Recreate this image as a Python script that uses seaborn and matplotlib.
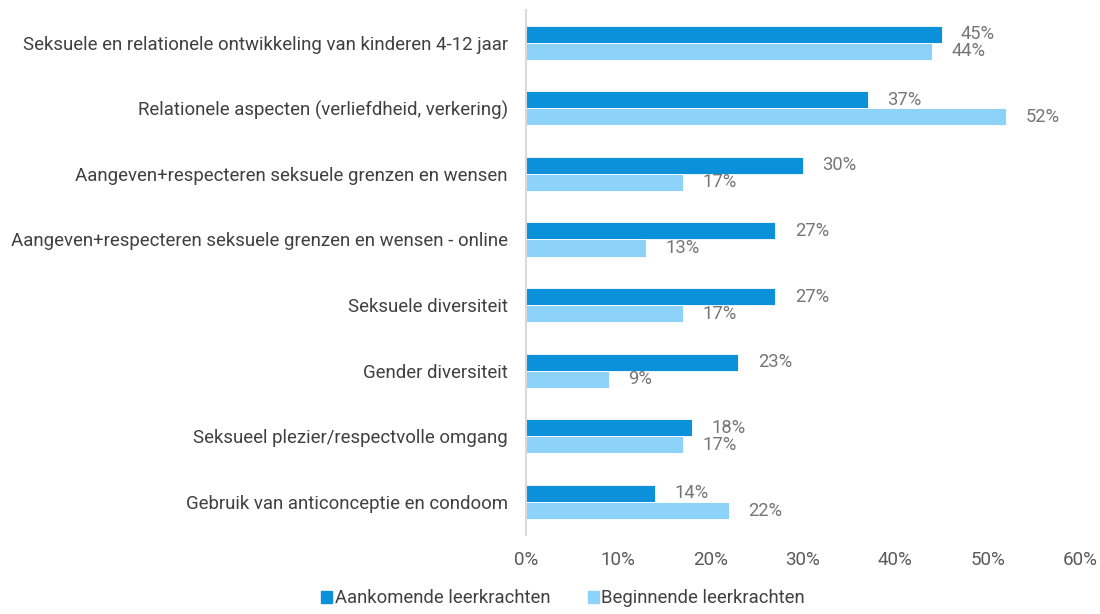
import numpy as np
import pandas as pd
import matplotlib.pyplot as plt
import seaborn as sns

categorieen = [
    'Seksuele en relationele ontwikkeling van kinderen 4-12 jaar',
    'Relationele aspecten (verliefdheid, verkering)',
    'Aangeven+respecteren seksuele grenzen en wensen',
    'Aangeven+respecteren seksuele grenzen en wensen - online',
    'Seksuele diversiteit',
    'Gender diversiteit',
    'Seksueel plezier/respectvolle omgang',
    'Gebruik van anticonceptie en condoom',
]
aankomend = [45, 37, 30, 27, 27, 23, 18, 14]
beginnend = [44, 52, 17, 13, 17, 9, 17, 22]
groepen = ['Aankomende leerkrachten', 'Beginnende leerkrachten']
kleuren = ['#0B91DA', '#8DD3F9']

df = pd.DataFrame({
    'cat': categorieen * 2,
    'pct': aankomend + beginnend,
    'groep': [groepen[0]] * len(categorieen) + [groepen[1]] * len(categorieen),
})

sns.set_theme(style='white')
plt.rcParams['font.family'] = ['Roboto', 'DejaVu Sans']

fig, ax = plt.subplots(figsize=(11, 6.14), dpi=100)
plt.subplots_adjust(left=0.478, right=0.982, top=0.984, bottom=0.129)

sns.barplot(data=df, y='cat', x='pct', hue='groep', palette=kleuren,
            orient='h', width=0.52, ax=ax, legend=False, saturation=1,
            edgecolor='white', linewidth=0.6)

for cont in ax.containers:
    ax.bar_label(cont, fmt='%.0f%%', padding=14, color='#767676', fontsize=13.2)

ax.set_xlim(0, 60)
ax.set_xticks(range(0, 61, 10))
ax.set_xticklabels([f'{t}%' for t in range(0, 61, 10)])
ax.set_xlabel('')
ax.set_ylabel('')
ax.set_ylim(len(categorieen) - 0.5, -0.5)

sns.despine(ax=ax, top=True, right=True, bottom=True, left=False)
ax.spines['left'].set_color('#d9d9d9')
ax.spines['left'].set_linewidth(1.5)
ax.tick_params(axis='y', length=0, pad=13, labelsize=13.4, labelcolor='#404040')
ax.tick_params(axis='x', length=0, pad=12, labelsize=13.5, labelcolor='#595959')

handles = [plt.Rectangle((0, 0), 1, 1, color=c) for c in kleuren]
fig.legend(handles, groepen, loc='lower center', bbox_to_anchor=(0.512, -0.01),
           ncol=2, frameon=False, handlelength=0.6, handleheight=0.6,
           handletextpad=0.15, columnspacing=2.0, borderpad=0.2,
           prop={'size': 13.3}, labelcolor='#404040')

plt.savefig('out.png', dpi=100)
